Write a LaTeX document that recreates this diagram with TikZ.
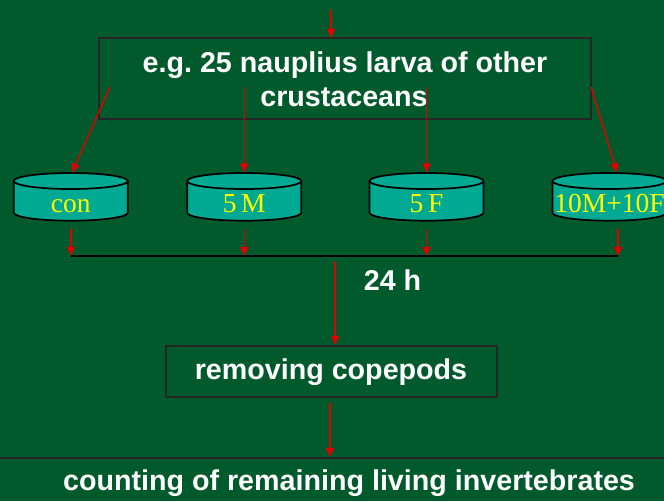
\documentclass[tikz,border=0pt]{standalone}
\usepackage{fontspec}
\setmainfont{Liberation Serif}
\newfontfamily\headfont{Liberation Sans}
\usetikzlibrary{arrows.meta}
\definecolor{board}{RGB}{0,90,44}
\definecolor{drumfill}{RGB}{0,170,146}
\definecolor{flow}{RGB}{224,0,0}
\definecolor{drumtext}{RGB}{255,255,0}
\tikzset{
  flowarrow/.style={draw=flow, line width=1.1pt, -{Triangle[length=6.8pt,width=6pt]}},
  panel/.style={draw=black!85, line width=1.5pt, rectangle, inner sep=0pt},
  headtext/.style={text=white, font=\headfont\bfseries\fontsize{21.5}{26}\selectfont\frenchspacing, inner sep=0pt},
  drumlabel/.style={text=drumtext, font=\fontsize{20.6}{24}\selectfont, inner sep=0pt, anchor=base},
}
% a vessel: body + top rim drawn around a named anchor node
\newcommand{\vessel}[3]{%
  \fill[drumfill] (#2-57,181) -- (#2-57,212.7) arc(180:0:57 and 8) -- (#2+57,181) arc(0:-180:57 and 8) -- cycle;
  \draw[black, line width=1.3pt] (#2-57,181) -- (#2-57,212.7) arc(180:0:57 and 8) -- (#2+57,181);
  \draw[black, line width=1.3pt] (#2,181) ellipse (57 and 8);
  \node[minimum width=114, minimum height=48, inner sep=0pt] (#1) at (#2,197) {};
  \node[drumlabel] at (#2,212) {#3};
}
\begin{document}
\begin{tikzpicture}[x=0.75pt, y=-0.75pt]
  \clip (0,0) rectangle (664,501);
  \fill[board] (0,0) rectangle (664,501);

  % stock of larvae
  \node[panel, minimum width=492*0.75pt, minimum height=81*0.75pt] (stock) at (345,78.5) {};
  \node[headtext, anchor=base] at (345,72) {e.g. 25 nauplius larva of other};
  \node[headtext, anchor=base] at (344,106.7) {crustaceans};
  \coordinate (feed) at (331,10);
  \draw[flowarrow] (feed) -- (331,38);

  % the four treatments
  \vessel{con}{70.75}{con}
  \vessel{male}{244.25}{5\,M}
  \vessel{female}{426.5}{5\,F}
  \vessel{mixed}{609.5}{10M+10F}

  \coordinate (o1) at (110,87);
  \coordinate (o2) at (244.25,87);
  \coordinate (o3) at (426.5,87);
  \coordinate (o4) at (591,87);
  \draw[flowarrow] (o1) -- (72,172.5);
  \draw[flowarrow] (o2) -- (244.25,172.5);
  \draw[flowarrow] (o3) -- (426.5,172.5);
  \draw[flowarrow] (o4) -- (617,172.5);

  % collecting line
  \coordinate (b1) at (71,256);
  \coordinate (b2) at (244.25,256);
  \coordinate (b3) at (426.5,256);
  \coordinate (b4) at (618,256);
  \draw[flowarrow] (con.south -| b1) -- (b1);
  \draw[flowarrow] (male.south) -- (b2);
  \draw[flowarrow] (female.south) -- (b3);
  \draw[flowarrow] (mixed.south -| b4) -- (b4);
  \draw[black, line width=1.4pt] (b1) -- (b4);

  \node[headtext, anchor=base] (time) at (392.5,290.7) {24 h};

  % removal step
  \node[panel, minimum width=331*0.75pt, minimum height=51*0.75pt] (remove) at (331.5,371.5) {};
  \node[headtext, anchor=base] at (331,379) {removing copepods};
  \coordinate (t1) at (335,262);
  \draw[flowarrow] (t1) -- (remove.north -| t1);

  % counting step
  \node[panel, minimum width=700*0.75pt, minimum height=80*0.75pt] (count) at (332,498) {};
  \node[headtext, anchor=base] at (349,490) {counting of remaining living invertebrates};
  \coordinate (t2) at (330,403);
  \draw[flowarrow] (t2) -- (count.north -| t2);
\end{tikzpicture}
\end{document}
